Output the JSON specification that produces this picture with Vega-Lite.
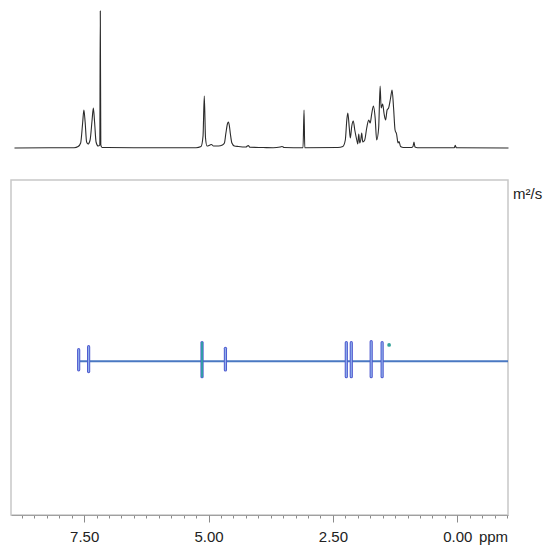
{
  "$schema": "https://vega.github.io/schema/vega-lite/v6.json",
  "padding": {"left": 10, "top": 8, "right": 0, "bottom": 0},
  "spacing": 28,
  "config": {"font": "Liberation Sans", "view": {"stroke": null}, "axis": {"grid": false}},
  "datasets": {
    "spectrum": [
      {"ppm": 8.90, "intensity": 0}, {"ppm": 8.2, "intensity": 0.2}, {"ppm": 7.70, "intensity": 0.3},
      {"ppm": 7.62, "intensity": 1.5}, {"ppm": 7.57, "intensity": 5}, {"ppm": 7.53, "intensity": 25},
      {"ppm": 7.505, "intensity": 38}, {"ppm": 7.48, "intensity": 26}, {"ppm": 7.45, "intensity": 6},
      {"ppm": 7.42, "intensity": 4}, {"ppm": 7.38, "intensity": 8}, {"ppm": 7.34, "intensity": 28},
      {"ppm": 7.315, "intensity": 40}, {"ppm": 7.29, "intensity": 26}, {"ppm": 7.26, "intensity": 6},
      {"ppm": 7.22, "intensity": 2}, {"ppm": 7.185, "intensity": 3}, {"ppm": 7.175, "intensity": 137},
      {"ppm": 7.165, "intensity": 3}, {"ppm": 7.14, "intensity": 0.5}, {"ppm": 6.5, "intensity": 0.3},
      {"ppm": 5.8, "intensity": 0.3}, {"ppm": 5.25, "intensity": 0.3}, {"ppm": 5.15, "intensity": 1.5},
      {"ppm": 5.11, "intensity": 12}, {"ppm": 5.085, "intensity": 52}, {"ppm": 5.06, "intensity": 10},
      {"ppm": 5.03, "intensity": 2}, {"ppm": 4.97, "intensity": 3}, {"ppm": 4.94, "intensity": 3.5},
      {"ppm": 4.90, "intensity": 2}, {"ppm": 4.80, "intensity": 2}, {"ppm": 4.72, "intensity": 3},
      {"ppm": 4.68, "intensity": 5}, {"ppm": 4.65, "intensity": 15}, {"ppm": 4.62, "intensity": 24},
      {"ppm": 4.60, "intensity": 26}, {"ppm": 4.58, "intensity": 22}, {"ppm": 4.56, "intensity": 14},
      {"ppm": 4.53, "intensity": 5}, {"ppm": 4.48, "intensity": 2}, {"ppm": 4.40, "intensity": 1.5},
      {"ppm": 4.25, "intensity": 1}, {"ppm": 4.20, "intensity": 2.5}, {"ppm": 4.17, "intensity": 0.8},
      {"ppm": 3.90, "intensity": 0.5}, {"ppm": 3.70, "intensity": 0.3}, {"ppm": 3.56, "intensity": 1},
      {"ppm": 3.52, "intensity": 1.5}, {"ppm": 3.48, "intensity": 0.5}, {"ppm": 3.10, "intensity": 0.3},
      {"ppm": 3.08, "intensity": 38}, {"ppm": 3.065, "intensity": 0.3}, {"ppm": 2.40, "intensity": 0.5},
      {"ppm": 2.30, "intensity": 1.5}, {"ppm": 2.25, "intensity": 8}, {"ppm": 2.22, "intensity": 28},
      {"ppm": 2.20, "intensity": 35}, {"ppm": 2.17, "intensity": 20}, {"ppm": 2.15, "intensity": 10},
      {"ppm": 2.12, "intensity": 22}, {"ppm": 2.09, "intensity": 27}, {"ppm": 2.06, "intensity": 18},
      {"ppm": 2.02, "intensity": 8}, {"ppm": 2.00, "intensity": 4}, {"ppm": 1.98, "intensity": 14},
      {"ppm": 1.96, "intensity": 5}, {"ppm": 1.94, "intensity": 8}, {"ppm": 1.92, "intensity": 15},
      {"ppm": 1.90, "intensity": 6}, {"ppm": 1.86, "intensity": 8}, {"ppm": 1.82, "intensity": 20},
      {"ppm": 1.78, "intensity": 28}, {"ppm": 1.75, "intensity": 25}, {"ppm": 1.72, "intensity": 34},
      {"ppm": 1.685, "intensity": 42}, {"ppm": 1.65, "intensity": 30}, {"ppm": 1.62, "intensity": 8},
      {"ppm": 1.58, "intensity": 20}, {"ppm": 1.55, "intensity": 62}, {"ppm": 1.53, "intensity": 40},
      {"ppm": 1.50, "intensity": 44}, {"ppm": 1.47, "intensity": 34}, {"ppm": 1.44, "intensity": 28},
      {"ppm": 1.41, "intensity": 38}, {"ppm": 1.38, "intensity": 40}, {"ppm": 1.34, "intensity": 50},
      {"ppm": 1.31, "intensity": 58}, {"ppm": 1.28, "intensity": 40}, {"ppm": 1.25, "intensity": 18},
      {"ppm": 1.22, "intensity": 14}, {"ppm": 1.19, "intensity": 5}, {"ppm": 1.17, "intensity": 6.5},
      {"ppm": 1.14, "intensity": 1.5}, {"ppm": 1.08, "intensity": 0.5}, {"ppm": 0.92, "intensity": 0.5},
      {"ppm": 0.89, "intensity": 1.5}, {"ppm": 0.87, "intensity": 6}, {"ppm": 0.85, "intensity": 1},
      {"ppm": 0.80, "intensity": 0.3}, {"ppm": 0.06, "intensity": 0.3}, {"ppm": 0.04, "intensity": 2.7},
      {"ppm": 0.02, "intensity": 0.3}, {"ppm": -1.03, "intensity": 0}
    ],
    "contours": [
      {"ppm": 7.61, "logD": -9.513, "logD2": -9.633, "level": "normal"},
      {"ppm": 7.41, "logD": -9.495, "logD2": -9.644, "level": "normal"},
      {"ppm": 5.13, "logD": -9.470, "logD2": -9.674, "level": "strong"},
      {"ppm": 4.66, "logD": -9.505, "logD2": -9.634, "level": "normal"},
      {"ppm": 2.23, "logD": -9.471, "logD2": -9.674, "level": "normal"},
      {"ppm": 2.13, "logD": -9.471, "logD2": -9.674, "level": "normal"},
      {"ppm": 1.73, "logD": -9.465, "logD2": -9.674, "level": "normal"},
      {"ppm": 1.51, "logD": -9.471, "logD2": -9.674, "level": "normal"}
    ]
  },
  "vconcat": [
    {
      "width": 497,
      "height": 142,
      "data": {"name": "spectrum"},
      "mark": {"type": "line", "interpolate": "monotone", "color": "#2b2b2b", "strokeWidth": 1.1},
      "encoding": {
        "x": {"field": "ppm", "type": "quantitative", "scale": {"domain": [8.97, -1.02], "nice": false, "zero": false}, "axis": null},
        "y": {"field": "intensity", "type": "quantitative", "scale": {"domain": [-2, 140], "nice": false, "zero": false}, "axis": null}
      }
    },
    {
      "width": 497,
      "height": 335,
      "view": {"stroke": "#c8c8c8", "strokeWidth": 1.5},
      "encoding": {
        "y": {
          "field": "logD", "type": "quantitative",
          "scale": {"domain": [-10.5, -8.5], "nice": false, "zero": false},
          "axis": {"orient": "right", "domain": false, "ticks": false, "labels": false, "title": "m²/s", "titleAngle": 0, "titleX": 4.5, "titleY": 18.5, "titleAlign": "left", "titleBaseline": "alphabetic", "titleFontSize": 15, "titleFontWeight": "normal", "titleColor": "#222"}
        }
      },
      "layer": [
        {
          "data": {"values": [{"from": 7.61, "to": -1.02, "logD": -9.582}]},
          "mark": {"type": "rule", "color": "#4a78c2", "strokeWidth": 2},
          "encoding": {
            "x": {
              "field": "from", "type": "quantitative",
              "scale": {"domain": [8.97, -1.02], "nice": false, "zero": false},
              "axis": {"orient": "bottom", "values": [8.75, 8.5, 8.25, 8.0, 7.75, 7.5, 7.25, 7.0, 6.75, 6.5, 6.25, 6.0, 5.75, 5.5, 5.25, 5.0, 4.75, 4.5, 4.25, 4.0, 3.75, 3.5, 3.25, 3.0, 2.75, 2.5, 2.25, 2.0, 1.75, 1.5, 1.25, 1.0, 0.75, 0.5, 0.25, 0.0, -0.25, -0.5, -0.75, -1.0], "tickSize": 3, "labels": false, "domain": true, "domainColor": "#a0a0a0", "tickColor": "#8a8a8a", "title": null}
            },
            "x2": {"field": "to"}
          }
        },
        {
          "data": {"name": "contours"},
          "mark": {"type": "rule", "color": "#4f5ad0", "strokeWidth": 3.2, "strokeCap": "round"},
          "encoding": {
            "x": {
              "field": "ppm", "type": "quantitative",
              "scale": {"domain": [8.97, -1.02], "nice": false, "zero": false},
              "axis": {"orient": "bottom", "values": [7.5, 5.0, 2.5, 0.0], "format": ".2f", "tickSize": 7, "tickColor": "#8a8a8a", "domain": false, "labelFontSize": 15, "labelColor": "#222", "labelPadding": 7, "title": "ppm", "titleX": 482, "titleY": 26.2, "titleAlign": "center", "titleBaseline": "alphabetic", "titleFontSize": 15, "titleFontWeight": "normal", "titleColor": "#222"}
            },
            "y2": {"field": "logD2"}
          }
        },
        {
          "data": {"name": "contours"},
          "mark": {"type": "rule", "color": "#8fb0ea", "strokeWidth": 1.2, "strokeCap": "round"},
          "encoding": {
            "x": {"field": "ppm", "type": "quantitative", "axis": null},
            "y2": {"field": "logD2"}
          }
        },
        {
          "data": {"name": "contours"},
          "transform": [{"filter": "datum.level == 'strong'"}],
          "mark": {"type": "rule", "color": "#22a09a", "strokeWidth": 1.6, "strokeCap": "round"},
          "encoding": {
            "x": {"field": "ppm", "type": "quantitative", "axis": null},
            "y2": {"field": "logD2"}
          }
        },
        {
          "data": {"values": [{"ppm": 1.37, "logD": -9.485}]},
          "mark": {"type": "point", "filled": true, "size": 14, "color": "#34a39a", "opacity": 1},
          "encoding": {
            "x": {"field": "ppm", "type": "quantitative", "axis": null}
          }
        }
      ],
      "resolve": {"axis": {"x": "independent"}}
    }
  ]
}
